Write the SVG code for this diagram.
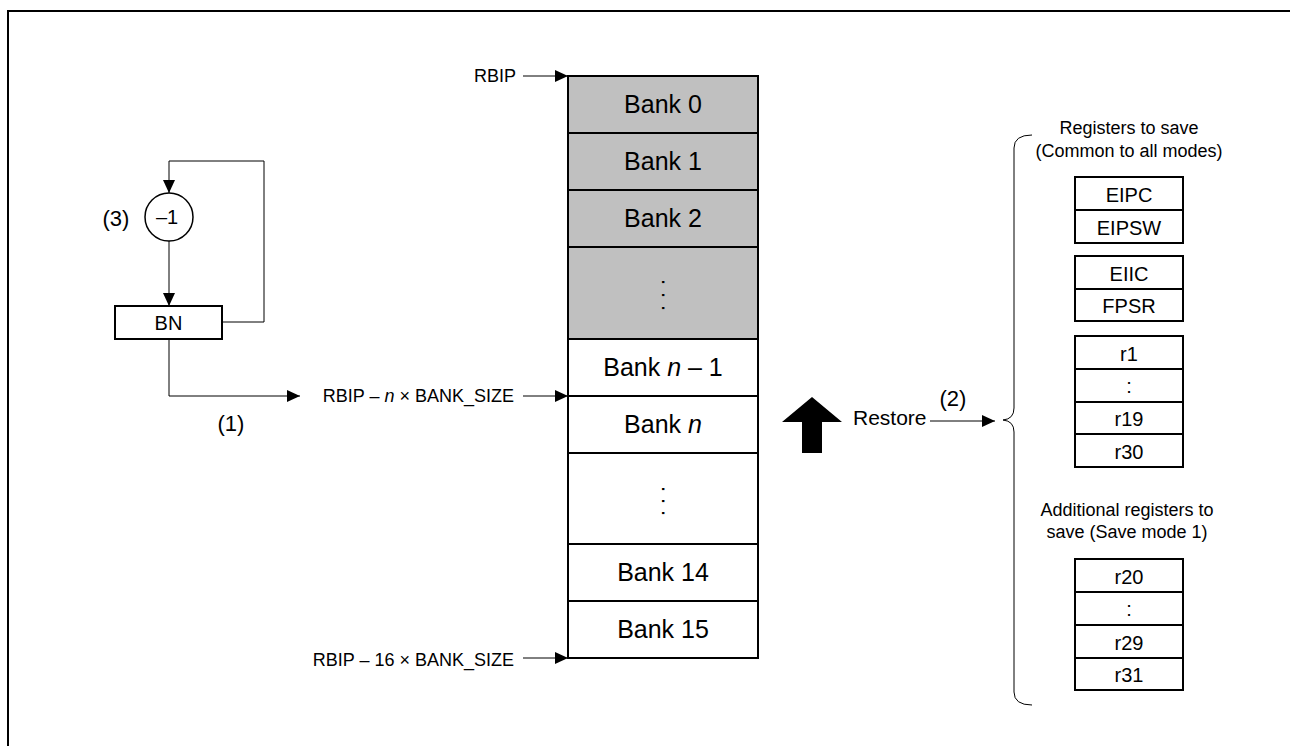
<svg xmlns="http://www.w3.org/2000/svg" width="1290" height="746" viewBox="0 0 1290 746">
<style>
text{font-family:"Liberation Sans",Arial,sans-serif;fill:#000}
.bank{fill:#c0c0c0;stroke:#000;stroke-width:2}
.bankw{fill:#fff;stroke:#000;stroke-width:2}
.bl{font-size:25px;text-anchor:middle}
.sm{font-size:18px}
.reg{fill:#fff;stroke:#000;stroke-width:2}
.rl{font-size:20px;text-anchor:middle}
.cap{font-size:18px;text-anchor:middle}
.num{font-size:22px;text-anchor:middle}
.con{fill:none;stroke:#000;stroke-width:1}
.dots{font-size:22px}
</style>
<defs>
<marker id="ah" markerWidth="13" markerHeight="12" refX="13" refY="6" orient="auto" markerUnits="userSpaceOnUse"><path d="M0,0 L13,6 L0,12 z" fill="#000"/></marker>
</defs>
<path d="M8,746 V11 H1290" fill="none" stroke="#000" stroke-width="2"/>

<g id="connectors">
<path class="con" d="M523,76 H568" marker-end="url(#ah)"/>
<path class="con" d="M523,396 H568" marker-end="url(#ah)"/>
<path class="con" d="M523,658 H568" marker-end="url(#ah)"/>
<path class="con" d="M222,322 H264 V161 H169 V193" marker-end="url(#ah)"/>
<path class="con" d="M169,241 V306" marker-end="url(#ah)"/>
<path class="con" d="M169,339 V396 H300" marker-end="url(#ah)"/>
<path class="con" d="M930,421 H995" marker-end="url(#ah)"/>
<path class="con" d="M1032,135 Q1014,135 1014,148 V408 Q1014,419 1003,420 Q1014,421 1014,432 V692 Q1014,705 1032,705"/>
</g>

<g id="labels">
<text class="sm" x="516" y="82" text-anchor="end">RBIP</text>
<text class="sm" x="514" y="402" text-anchor="end">RBIP – <tspan font-style="italic">n</tspan> × BANK_SIZE</text>
<text class="sm" x="514" y="666" text-anchor="end">RBIP – 16 × BANK_SIZE</text>
<text class="num" x="116" y="226">(3)</text>
<text class="num" x="231" y="431">(1)</text>
<text class="num" x="953" y="406">(2)</text>
<text x="853" y="425" font-size="21">Restore</text>
</g>

<g id="counter">
<circle cx="169" cy="217" r="24" fill="#fff" stroke="#000" stroke-width="1.5"/>
<text x="167" y="224" font-size="20" text-anchor="middle">–1</text>
</g>
<g id="bn">
<rect x="115" y="306" width="107" height="33" fill="#fff" stroke="#000" stroke-width="2"/>
<text x="168.5" y="330" font-size="20" text-anchor="middle">BN</text>
</g>

<g id="restore-arrow">
<polygon points="812,397 842,422 822,422 822,453 802,453 802,422 782,422" fill="#000"/>
</g>

<g id="bank0"><rect class="bank" x="568" y="76" width="190" height="57"/><text class="bl" x="663" y="113">Bank 0</text></g>
<g id="bank1"><rect class="bank" x="568" y="133" width="190" height="57"/><text class="bl" x="663" y="170">Bank 1</text></g>
<g id="bank2"><rect class="bank" x="568" y="190" width="190" height="57"/><text class="bl" x="663" y="227">Bank 2</text></g>
<g id="bank-dots1"><rect class="bank" x="568" y="247" width="190" height="92"/><text class="dots" transform="rotate(90 663 295)" x="647 660 673" y="296">...</text></g>
<g id="bank-n-1"><rect class="bankw" x="568" y="339" width="190" height="57"/><text class="bl" x="663" y="376">Bank <tspan font-style="italic">n</tspan> – 1</text></g>
<g id="bank-n"><rect class="bankw" x="568" y="396" width="190" height="57"/><text class="bl" x="663" y="433">Bank <tspan font-style="italic">n</tspan></text></g>
<g id="bank-dots2"><rect class="bankw" x="568" y="453" width="190" height="91"/><text class="dots" transform="rotate(90 663 501)" x="648 660 672" y="502">...</text></g>
<g id="bank14"><rect class="bankw" x="568" y="544" width="190" height="57"/><text class="bl" x="663" y="581">Bank 14</text></g>
<g id="bank15"><rect class="bankw" x="568" y="601" width="190" height="57"/><text class="bl" x="663" y="638">Bank 15</text></g>

<g id="common-title">
<text class="cap" x="1129" y="134">Registers to save</text>
<text class="cap" x="1129" y="157">(Common to all modes)</text>
</g>
<g id="reg-eipc">
<rect class="reg" x="1075" y="177" width="108" height="33"/><text class="rl" x="1129" y="202">EIPC</text>
<rect class="reg" x="1075" y="210" width="108" height="33"/><text class="rl" x="1129" y="235">EIPSW</text>
</g>
<g id="reg-eiic">
<rect class="reg" x="1075" y="256" width="108" height="33"/><text class="rl" x="1129" y="281">EIIC</text>
<rect class="reg" x="1075" y="289" width="108" height="32"/><text class="rl" x="1129" y="313">FPSR</text>
</g>
<g id="reg-r1">
<rect class="reg" x="1075" y="336" width="108" height="33"/><text class="rl" x="1129" y="361">r1</text>
<rect class="reg" x="1075" y="369" width="108" height="33"/><text class="rl" x="1129" y="393">:</text>
<rect class="reg" x="1075" y="402" width="108" height="32"/><text class="rl" x="1129" y="426">r19</text>
<rect class="reg" x="1075" y="434" width="108" height="33"/><text class="rl" x="1129" y="459">r30</text>
</g>
<g id="additional-title">
<text class="cap" x="1127" y="516">Additional registers to</text>
<text class="cap" x="1127" y="538">save (Save mode 1)</text>
</g>
<g id="reg-r20">
<rect class="reg" x="1075" y="559" width="108" height="33"/><text class="rl" x="1129" y="584">r20</text>
<rect class="reg" x="1075" y="592" width="108" height="33"/><text class="rl" x="1129" y="616">:</text>
<rect class="reg" x="1075" y="625" width="108" height="33"/><text class="rl" x="1129" y="650">r29</text>
<rect class="reg" x="1075" y="658" width="108" height="32"/><text class="rl" x="1129" y="682">r31</text>
</g>
</svg>
